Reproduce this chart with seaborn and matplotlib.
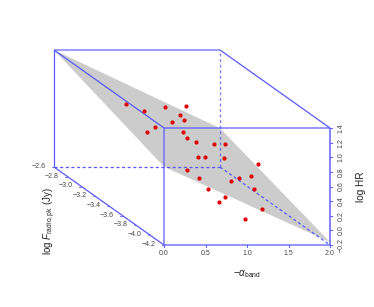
import pandas as pd
import seaborn as sns
import matplotlib.pyplot as plt

sns.set_theme(style="white")
plt.rcParams['font.family'] = ['Liberation Sans', 'DejaVu Sans']
plt.rcParams['mathtext.fontset'] = 'custom'
plt.rcParams['mathtext.rm'] = 'Liberation Sans'
plt.rcParams['mathtext.it'] = 'Liberation Sans:italic'

# points as seen on the front face (log F = -4.2)
alpha_pts = [-0.458, -0.237, 0.008, 0.193, 0.237, 0.269, 0.096, -0.105, -0.201, 0.225,
             0.277, 0.389, 0.599, 0.735, 0.410, 0.490, 0.719, 1.136, 0.273, 1.045,
             0.900, 0.425, 0.811, 1.084, 0.534, 0.731, 0.666, 1.181, 0.972]
hr_pts = [1.728, 1.637, 1.687, 1.574, 1.509, 1.697, 1.482, 1.414, 1.345, 1.349,
          1.263, 1.213, 1.185, 1.181, 1.008, 1.008, 0.994, 0.908, 0.830, 0.748,
          0.720, 0.712, 0.675, 0.570, 0.562, 0.461, 0.392, 0.288, 0.156]

alpha_ticks = [0.0, 0.5, 1.0, 1.5, 2.0]
hr_ticks = [-0.2, 0.0, 0.2, 0.4, 0.6, 0.8, 1.0, 1.2, 1.4]
flux_ticks = [-2.6, -2.8, -3.0, -3.2, -3.4, -3.6, -3.8, -4.0, -4.2]

# regression plane at the four box corners (alpha, log F, log HR)
plane_alpha = [0.0, 2.0, 2.0, 0.0]
plane_flux = [-2.6, -2.6, -4.2, -4.2]
plane_hr = [1.4, 0.33, -0.16, 0.87]

BLUE = "#5a5aff"
DX = -110 / 83 / 1.6
DY = 78 / 73.125 / 1.6


def proj(a, f, h):
    # oblique projection, depth runs up and to the left
    d = f + 4.2
    return a + DX * d, h + DY * d


fig = plt.figure(figsize=(3.74, 3.07), dpi=100)
ax = fig.add_axes([0, 0, 1, 1])
ax.set_xlim(-164 / 83, (374 - 164) / 83)
ax.set_ylim(-0.2 - 62 / 73.125, -0.2 + 245 / 73.125)
ax.axis("off")

px, py = zip(*[proj(a, f, h) for a, f, h in zip(plane_alpha, plane_flux, plane_hr)])
ax.fill(px, py, color="#cccccc", lw=0, zorder=1)


def edge(p, q, ls="-", lw=0.9, alpha=1.0):
    a = proj(*p)
    b = proj(*q)
    ax.plot([a[0], b[0]], [a[1], b[1]], color=BLUE, ls=ls, lw=lw, alpha=alpha, zorder=2,
            solid_capstyle="butt")


lo_f, hi_f = -4.2, -2.6
lo_h, hi_h = -0.2, 1.4
edge((0, hi_f, lo_h), (0, hi_f, hi_h))
edge((0, hi_f, hi_h), (2, hi_f, hi_h), lw=1.2, alpha=0.7)
edge((0, hi_f, hi_h), (0, lo_f, hi_h))
edge((2, hi_f, hi_h), (2, lo_f, hi_h))
edge((0, lo_f, hi_h), (2, lo_f, hi_h), lw=1.1, alpha=0.8)
edge((0, lo_f, lo_h), (0, lo_f, hi_h), lw=1.1, alpha=0.8)
edge((0, lo_f, lo_h), (2, lo_f, lo_h), lw=1.3, alpha=0.7)
edge((2, lo_f, lo_h), (2, lo_f, hi_h), lw=1.3, alpha=0.8)
edge((0, hi_f, lo_h), (0, lo_f, lo_h))
edge((0, hi_f, lo_h), (2, hi_f, lo_h), ls=(0, (2.5, 2)))
edge((2, hi_f, lo_h), (2, hi_f, hi_h), ls=(0, (2, 2)), lw=1.0, alpha=0.8)
edge((2, hi_f, lo_h), (2, lo_f, lo_h), ls=(0, (2.5, 2)))

df = pd.DataFrame({"alpha": alpha_pts, "hr": hr_pts})
sns.scatterplot(data=df, x="alpha", y="hr", color="#e00000", s=9, linewidth=0, zorder=3, ax=ax)
ax.set_xlabel("")
ax.set_ylabel("")
ax.axis("off")

tick_size = 5
for a in alpha_ticks:
    ax.plot([a, a], [lo_h, lo_h - 0.03], color=BLUE, lw=0.8, zorder=2)
    ax.text(a, -0.317, f"{a:.1f}", ha="center", va="center", fontsize=tick_size, color="#444444")
for h in hr_ticks:
    ax.plot([2.0, 2.03], [h, h], color=BLUE, lw=0.8, zorder=2)
    ax.text(2.135, h, f"{h:.1f}".replace("-", "\u2212"), rotation=90, ha="center", va="center",
            fontsize=tick_size, color="#444444")
for f in flux_ticks:
    tx, ty = proj(0, f, lo_h)
    ax.plot([tx, tx - 0.03], [ty, ty], color=BLUE, lw=0.6, zorder=2)
    ax.text(tx - 0.19, ty + 0.01, f"{f:.1f}".replace("-", "\u2212"), ha="center", va="center",
            fontsize=tick_size, color="#444444")

ax.text(0.995, -0.595, "\u2212" + r"$\alpha_{\mathrm{band}}$", ha="center", va="center",
        fontsize=7, color="#222222")
ax.text(2.37, 0.59, "log HR", rotation=90, ha="center", va="center", fontsize=7.2, color="#222222")
ax.text(-1.38, 0.12, r"log $F_{\mathrm{radio,pk}}$ (Jy)", rotation=90, ha="center", va="center",
        fontsize=7, color="#222222")

fig.savefig("out.png", dpi=100)
